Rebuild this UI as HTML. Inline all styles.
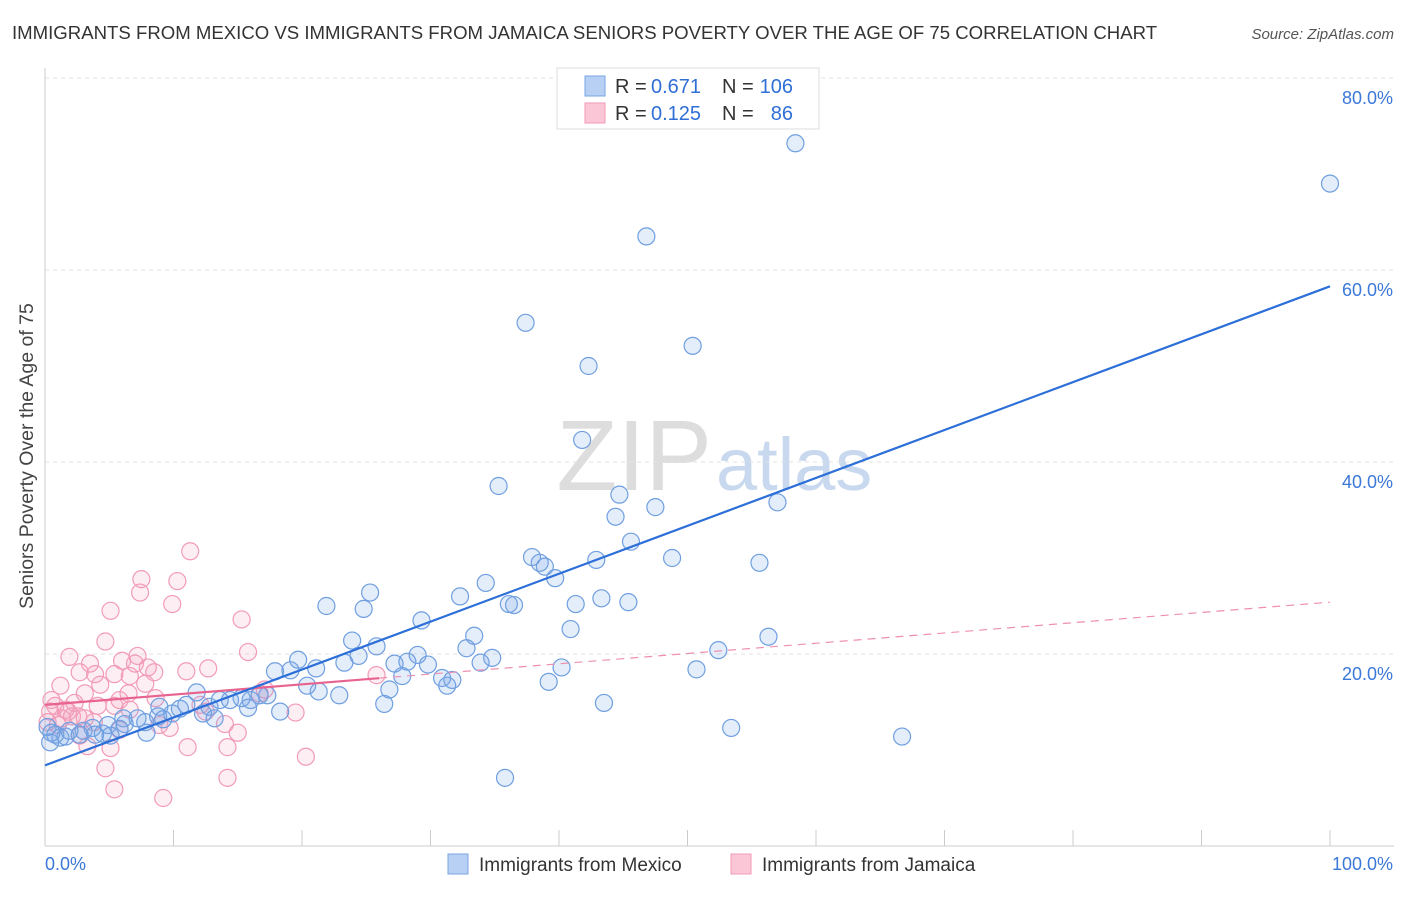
<!DOCTYPE html>
<html><head><meta charset="utf-8"><style>
body{margin:0;background:#fff;font-family:"Liberation Sans",sans-serif;}
svg text{font-family:"Liberation Sans",sans-serif;}
</style></head><body>
<svg id="chart" width="1406" height="892" xmlns="http://www.w3.org/2000/svg">
<text x="12" y="39" font-size="18.6" fill="#333">IMMIGRANTS FROM MEXICO VS IMMIGRANTS FROM JAMAICA SENIORS POVERTY OVER THE AGE OF 75 CORRELATION CHART</text>
<text x="1394" y="39" font-size="15" fill="#555" text-anchor="end" font-style="italic">Source: ZipAtlas.com</text>
<text transform="translate(33,456) rotate(-90)" font-size="19.5" fill="#444" text-anchor="middle">Seniors Poverty Over the Age of 75</text>
<text x="712" y="490" font-size="100" fill="#ddd" text-anchor="end" font-family="Liberation Serif">ZIP</text>
<text x="716" y="490" font-size="74" fill="#c8d8ee">atlas</text>
<g id="grid"></g><g id="pts"></g><g id="trends"></g>
<g>
<rect x="557" y="68" width="262" height="61" fill="#fff" stroke="#ddd"/>
<rect x="585" y="76" width="20" height="20" fill="#b7d0f4" stroke="#7aa6e4"/>
<rect x="585" y="103" width="20" height="20" fill="#fbc6d6" stroke="#f39ab7"/>
<text x="615" y="93" font-size="20" fill="#333">R =</text>
<text x="651" y="93" font-size="20" fill="#2f6fd6">0.671</text>
<text x="722" y="93" font-size="20" fill="#333">N =</text>
<text x="793" y="93" font-size="20" fill="#2f6fd6" text-anchor="end">106</text>
<text x="615" y="120" font-size="20" fill="#333">R =</text>
<text x="651" y="120" font-size="20" fill="#2f6fd6">0.125</text>
<text x="722" y="120" font-size="20" fill="#333">N =</text>
<text x="793" y="120" font-size="20" fill="#2f6fd6" text-anchor="end">86</text>
</g>
<g>
<rect x="448" y="854" width="20" height="20" fill="#b7d0f4" stroke="#7aa6e4"/>
<text x="479" y="871" font-size="19" fill="#333">Immigrants from Mexico</text>
<rect x="731" y="854" width="20" height="20" fill="#fbc6d6" stroke="#f39ab7"/>
<text x="762" y="871" font-size="19" fill="#333">Immigrants from Jamaica</text>
</g>
</svg>
<script>
const yTicks=[20,40,60,80];
const yTickLabels=["20.0%","40.0%","60.0%","80.0%"];
const xTickLabels=["0.0%","100.0%"];
const mexX=[58.4,100,46.8,37.4,50.4,42.3,41.8,35.3,44.7,57.0,47.5,44.4,45.6,37.9,48.8,38.5,42.9,55.6,38.9,39.7,34.3,25.3,32.3,21.9,24.8,36.5,36.1,41.3,45.4,43.3,29.3,40.9,56.3,33.4,23.9,25.8,32.8,52.4,19.7,24.4,34.8,29.0,28.2,27.2,23.3,29.8,21.1,33.9,40.2,17.9,19.1,27.8,30.9,31.7,31.3,39.2,50.7,26.8,20.4,21.3,22.9,26.4,11.8,14.4,11.0,16.0,13.6,15.3,17.3,16.7,12.8,8.9,10.5,15.8,43.5,18.3,9.9,12.3,8.8,13.2,6.1,7.2,9.2,4.9,3.7,5.8,7.9,3.0,53.4,66.7,4.5,2.7,1.6,0.8,1.2,0.4,35.8,6.2,7.8,1.9,5.1,3.9,0.5,0.2];
const mexY=[73.2,69.0,63.5,54.5,52.1,50.0,42.3,37.5,36.6,35.8,35.3,34.3,31.7,30.1,30.0,29.5,29.8,29.5,29.1,27.9,27.4,26.4,26.0,25.0,24.7,25.1,25.2,25.2,25.4,25.8,23.5,22.6,21.8,21.9,21.4,20.8,20.6,20.4,19.4,19.8,19.6,19.9,19.2,19.0,19.1,18.9,18.5,19.1,18.6,18.2,18.3,17.7,17.5,17.3,16.7,17.1,18.4,16.3,16.7,16.1,15.7,14.8,16.0,15.2,14.7,15.2,15.2,15.4,15.7,15.7,14.5,14.5,14.3,14.4,14.9,14.0,13.8,13.8,13.5,13.3,13.3,13.3,13.2,12.6,12.3,12.2,11.8,12.0,12.3,11.4,11.7,11.6,11.4,11.6,11.3,10.8,7.1,12.7,12.9,12.0,11.5,11.6,11.8,12.4];
const jamX=[11.3,7.5,10.3,7.4,9.9,5.1,15.3,4.7,1.9,7.2,15.8,3.5,6.0,7.0,8.0,8.5,11.0,12.7,2.7,3.9,5.4,6.6,4.3,7.8,1.2,8.6,6.5,5.8,3.1,2.3,4.1,5.4,0.8,1.6,0.4,2.1,3.1,2.6,0.2,1.0,3.8,12.5,17.1,16.7,14.0,15.0,9.7,19.5,25.8,2.7,3.3,5.1,11.1,14.2,20.3,4.7,14.2,5.4,9.2,1.3,1.8,0.5,5.8,6.6,12.1,8.9];
const jamY=[30.7,27.8,27.6,26.4,25.2,24.5,23.6,21.3,19.7,19.8,20.2,19.0,19.3,19.0,18.6,18.1,18.2,18.5,18.1,17.9,17.9,17.7,16.8,16.9,16.7,15.4,15.9,15.2,15.9,14.9,14.6,14.6,14.6,14.2,14.0,13.5,13.3,13.5,12.9,12.6,12.9,14.0,16.3,15.9,12.7,11.8,12.3,13.9,17.8,11.5,10.4,10.2,10.3,10.3,9.3,8.1,7.1,5.9,5.0,13.3,14.0,15.2,12.1,14.2,14.7,12.6];
const mexTrend=[8.4,58.3];
const jamTrend=[14.7,25.4];
const jamSolidEnd=26;
const NS="http://www.w3.org/2000/svg";
const X=v=>45+v*12.85, Y=v=>846-v*9.6;
function mk(p,tag,a){const e=document.createElementNS(NS,tag);for(const k in a)e.setAttribute(k,a[k]);p.appendChild(e);return e;}
const grid=document.getElementById('grid');
yTicks.forEach((t,i)=>{
  const l=mk(grid,'line',{x1:45,x2:1394,y1:Y(t),y2:Y(t),stroke:'#e2e2e2','stroke-dasharray':'4,4'});
  
  
  const tx=mk(grid,'text',{x:1393,y:Y(t)+26,'font-size':18,fill:'#3b78d8','text-anchor':'end'});
  tx.textContent=yTickLabels[i];
  
  
});
const ax=mk(grid,'line',{x1:45,x2:1394,y1:846,y2:846,stroke:'#ccc'});


const ay=mk(grid,'line',{x1:45,x2:45,y1:68,y2:846,stroke:'#ccc'});


for(let i=0;i<=10;i++){const t=mk(grid,'line',{x1:X(i*10),x2:X(i*10),y1:830,y2:846,stroke:'#ccc'});
  
  }
[[0,'start'],[100,'end']].forEach((d,i)=>{const t=mk(grid,'text',{x:i?1393:45,y:870,'font-size':18,fill:'#3b78d8','text-anchor':d[1]});t.textContent=xTickLabels[i];
  
  });
const pts=document.getElementById('pts');
jamX.forEach((x,i)=>{const c=mk(pts,'circle',{cx:X(x),cy:Y(jamY[i]),r:8.5,fill:'rgba(246,160,190,0.18)',stroke:'#f29bb8','stroke-width':1.2});
  
  });
mexX.forEach((x,i)=>{const c=mk(pts,'circle',{cx:X(x),cy:Y(mexY[i]),r:8.5,fill:'rgba(120,165,230,0.2)',stroke:'#6f9fe0','stroke-width':1.2});
  
  });
const tr=document.getElementById('trends');
const jy=x=>jamTrend[0]+(jamTrend[1]-jamTrend[0])*x/100;
const l1=mk(tr,'line',{x1:X(jamSolidEnd),y1:Y(jy(jamSolidEnd)),x2:X(100),y2:Y(jamTrend[1]),stroke:'#ee8fb0','stroke-width':1.2,'stroke-dasharray':'8,6'});


const l2=mk(tr,'line',{x1:X(0),y1:Y(jamTrend[0]),x2:X(jamSolidEnd),y2:Y(jy(jamSolidEnd)),stroke:'#e8638f','stroke-width':2.2});


const l3=mk(tr,'line',{x1:X(0),y1:Y(mexTrend[0]),x2:X(100),y2:Y(mexTrend[1]),stroke:'#2d6fd8','stroke-width':2.2});


</script>
</body></html>
